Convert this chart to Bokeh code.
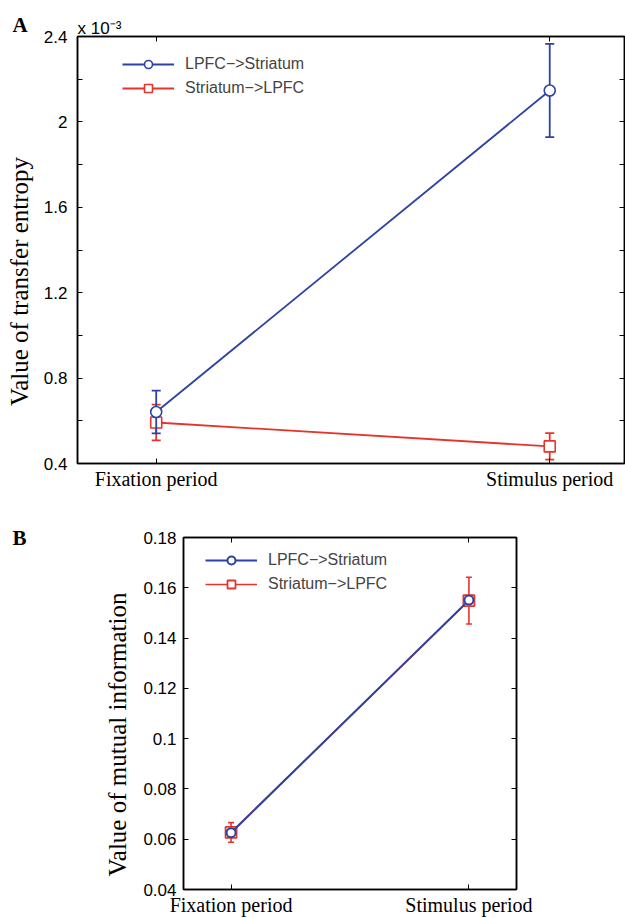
import math
from bokeh.plotting import figure
from bokeh.models import (FixedTicker, LinearAxis, Legend, LegendItem, Label, Range1d)
from bokeh.embed import file_html
from bokeh.resources import INLINE

# ---------------- data ----------------
periods = ["Fixation period", "Stimulus period"]
period_pos = [1, 2]
series_names = ["LPFC\u2212>Striatum", "Striatum\u2212>LPFC"]

# Panel A: transfer entropy (values shown in units of 1e-3)
te_lpfc_to_str = [0.641, 2.147]
te_lpfc_to_str_err = [0.100, 0.218]
te_str_to_lpfc = [0.592, 0.480]
te_str_to_lpfc_err = [0.084, 0.062]
te_ticks = [0.4, 0.8, 1.2, 1.6, 2.0, 2.4]
te_tick_labels = ["0.4", "0.8", "1.2", "1.6", "2", "2.4"]
te_minor_ticks = [0.6, 1.0, 1.4, 1.8, 2.2]

# Panel B: mutual information
mi_lpfc_to_str = [0.0626, 0.1551]
mi_str_to_lpfc = [0.0627, 0.1549]
mi_str_to_lpfc_err = [0.0039, 0.0093]
mi_ticks = [0.04, 0.06, 0.08, 0.1, 0.12, 0.14, 0.16, 0.18]
mi_tick_labels = ["0.04", "0.06", "0.08", "0.1", "0.12", "0.14", "0.16", "0.18"]

# ---------------- style ----------------
BLUE = "#2d43a3"
RED = "#e5352b"
SANS = "Liberation Sans"
SERIF = "Liberation Serif"


def style_axis(ax, ticks, minor=None, labels=None, show=True, standoff=8,
               font=SANS, size="17px"):
    ax.ticker = FixedTicker(ticks=ticks, minor_ticks=minor or [])
    ax.major_tick_in = 5
    ax.major_tick_out = 0
    ax.minor_tick_in = 5
    ax.minor_tick_out = 0
    ax.axis_line_color = "black"
    ax.axis_line_width = 1.5
    ax.major_tick_line_color = "black"
    ax.minor_tick_line_color = "black"
    ax.major_tick_line_width = 1
    ax.minor_tick_line_width = 1
    if show:
        if labels is not None:
            ax.major_label_overrides = dict(zip(ticks, labels))
        ax.major_label_text_font = font
        ax.major_label_text_font_size = size
        ax.major_label_text_color = "black"
        ax.major_label_standoff = standoff
    else:
        ax.major_label_text_font_size = "0px"
        ax.major_label_standoff = 0
        ax.major_label_text_color = None


def make_fig(height, bt, bb, bl, br, x_end, y0, y1, ticks, minor, tick_labels, y_standoff):
    p = figure(width=625, height=height, x_range=Range1d(0.8, x_end),
               y_range=Range1d(y0, y1), output_backend="svg",
               toolbar_location=None, min_border_top=bt, min_border_bottom=bb,
               min_border_left=bl, min_border_right=br)
    p.grid.visible = False
    p.outline_line_color = "black"
    p.outline_line_width = 1.5
    p.background_fill_color = "white"
    p.border_fill_color = "white"
    style_axis(p.xaxis[0], period_pos, labels=periods, standoff=4, font=SERIF, size="20px")
    style_axis(p.yaxis[0], ticks, minor=minor, labels=tick_labels, standoff=y_standoff)
    top = LinearAxis()
    style_axis(top, period_pos, show=False)
    p.add_layout(top, "above")
    right = LinearAxis()
    style_axis(right, ticks, minor=minor, show=False)
    p.add_layout(right, "right")
    return p


def errbars(p, vals, errs, color, cap, lw):
    lo = [v - e for v, e in zip(vals, errs)]
    hi = [v + e for v, e in zip(vals, errs)]
    p.segment(x0=period_pos, y0=lo, x1=period_pos, y1=hi, line_color=color, line_width=lw)
    p.scatter(period_pos, lo, marker="dash", size=cap, line_color=color, line_width=lw)
    p.scatter(period_pos, hi, marker="dash", size=cap, line_color=color, line_width=lw)


def add_legend(p, items, loc):
    lg = Legend(items=items, location=loc, margin=0, padding=0, spacing=4,
                glyph_width=52, glyph_height=20, label_height=20, label_standoff=11,
                label_text_font=SANS, label_text_font_size="16px",
                border_line_color=None, background_fill_alpha=0)
    p.add_layout(lg)


def side_label(p, side, x, y, text, size, font=SERIF, style="normal", angle=0.0,
               align="left", baseline="top"):
    # texts outside the frame live in side panels so that they are not clipped
    p.add_layout(Label(x=x, y=y, x_units="screen", y_units="screen", text=text,
                       angle=angle, text_font=font, text_font_size=size,
                       text_font_style=style, text_color="black",
                       text_align=align, text_baseline=baseline), side)


# ---------------- Panel A ----------------
pa = make_fig(511, 36, 47, 77, 1, 2.19, 0.4, 2.4, te_ticks, te_minor_ticks,
              te_tick_labels, 10)
pa.title.text = "A"
pa.title.align = "left"
pa.title.offset = -65
pa.title.standoff = 0
pa.title.text_font = SERIF
pa.title.text_font_size = "21px"
pa.title.text_font_style = "bold"
pa.title.text_color = "black"

errbars(pa, te_str_to_lpfc, te_str_to_lpfc_err, RED, 9, 1.8)
ra_line = pa.line(period_pos, te_str_to_lpfc, line_color=RED, line_width=1.8)
ra_pts = pa.scatter(period_pos, te_str_to_lpfc, marker="square", size=11,
                    line_color=RED, line_width=1.6, fill_color="white")
errbars(pa, te_lpfc_to_str, te_lpfc_to_str_err, BLUE, 9, 1.8)
ba_line = pa.line(period_pos, te_lpfc_to_str, line_color=BLUE, line_width=1.8)
ba_pts = pa.scatter(period_pos, te_lpfc_to_str, marker="circle", size=11,
                    line_color=BLUE, line_width=1.6, fill_color="white")

add_legend(pa, [LegendItem(label=series_names[0], renderers=[ba_line, ba_pts]),
                LegendItem(label=series_names[1], renderers=[ra_line, ra_pts])], (45, 365))

side_label(pa, "left", 6, 182, "Value of transfer entropy", "25px",
           angle=math.pi / 2, align="center", baseline="middle")
side_label(pa, "below", 0, 483, "x 10\u207b\u00b3", "17px", font=SANS,
           baseline="alphabetic")

# ---------------- Panel B ----------------
pb = make_fig(407, 26, 28, 183, 109, 2.2, 0.04, 0.18, mi_ticks, [],
              mi_tick_labels, 7)

errbars(pb, mi_str_to_lpfc, mi_str_to_lpfc_err, RED, 6, 1.6)
rb_line = pb.line(period_pos, mi_str_to_lpfc, line_color=RED, line_width=1.6)
rb_pts = pb.scatter(period_pos, mi_str_to_lpfc, marker="square", size=11,
                    line_color=RED, line_width=1.8, fill_color="white")
bb_line = pb.line(period_pos, mi_lpfc_to_str, line_color=BLUE, line_width=2)
bb_pts = pb.scatter(period_pos, mi_lpfc_to_str, marker="circle", size=9,
                    line_color=BLUE, line_width=2, fill_color="white")

add_legend(pb, [LegendItem(label=series_names[0], renderers=[bb_line, bb_pts]),
                LegendItem(label=series_names[1], renderers=[rb_line, rb_pts])], (22, 295))

side_label(pb, "left", 4, 155, "Value of mutual information", "25px",
           angle=math.pi / 2, align="center", baseline="middle")
side_label(pb, "left", -87, 364, "B", "21px", style="bold")

open("out.html", "w").write(file_html([pa, pb], INLINE))
